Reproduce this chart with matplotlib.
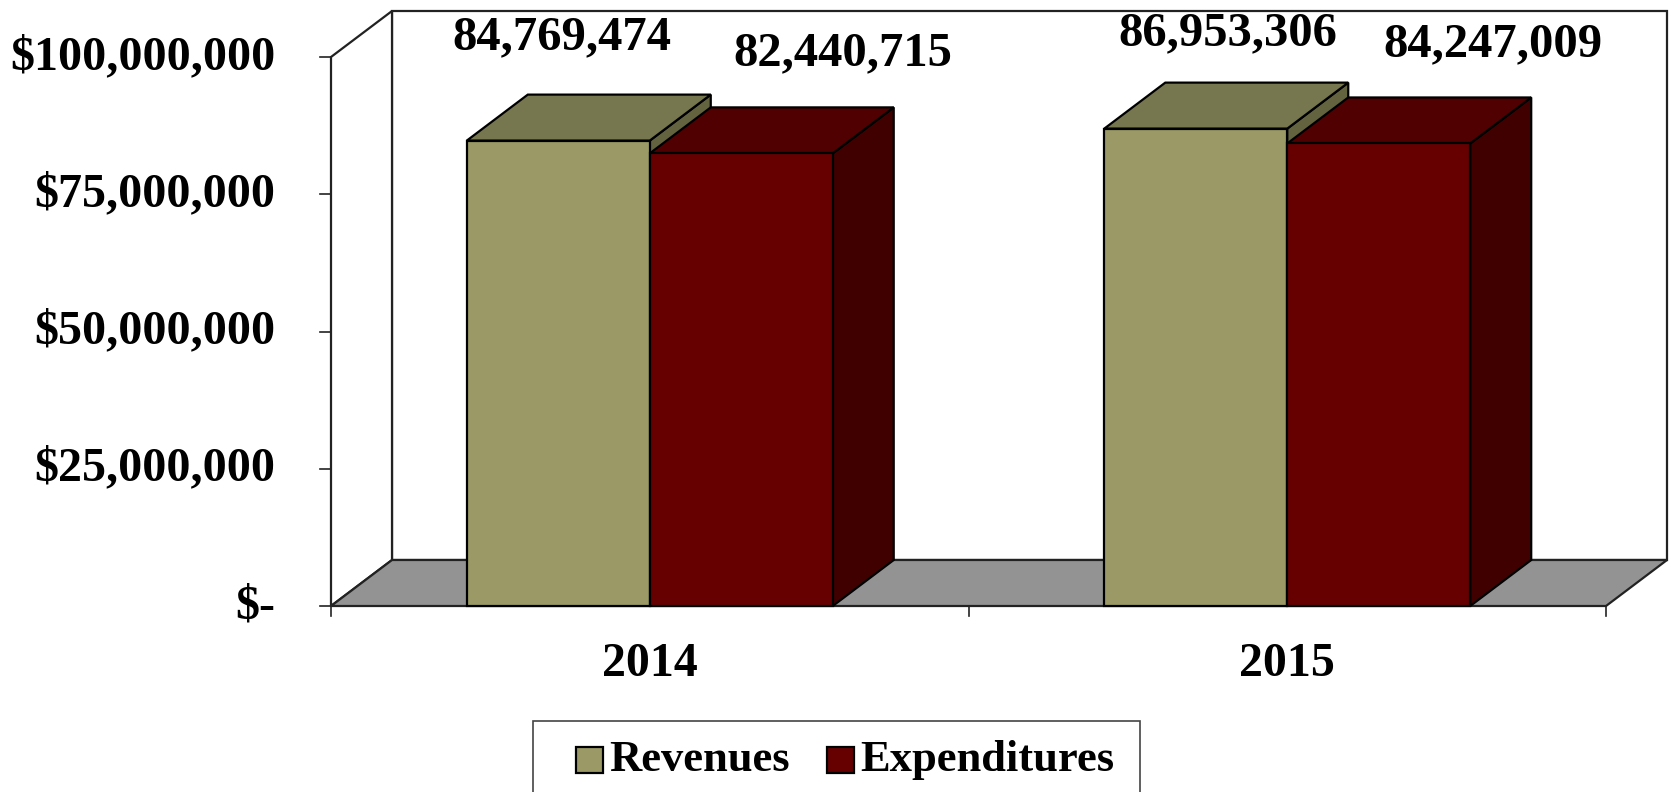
import matplotlib
matplotlib.use("Agg")
import matplotlib.pyplot as plt
from matplotlib.patches import Polygon, Rectangle

# ---- data ----
years = ["2014", "2015"]
revenues = [84769474, 86953306]
expenditures = [82440715, 84247009]
series_names = ["Revenues", "Expenditures"]
yticks = [0, 25000000, 50000000, 75000000, 100000000]
ytick_labels = ["$-", "$25,000,000", "$50,000,000", "$75,000,000", "$100,000,000"]

# ---- style ----
FONT = "Liberation Serif"
rev_cols = dict(front="#9B9A66", top="#76764F", side="#63633F")
exp_cols = dict(front="#660000", top="#500000", side="#400000")
floor_col = "#939393"
W, H = 1673, 792
DX = 0.0957          # depth offset in category units
DY = 8.38e6          # depth offset in value units
BW = 0.287           # bar width
# label offsets (category units, value units) per bar
lab_off = {("rev", 0): (0.005, 18.9e6), ("exp", 0): (0.16, 18.2e6),
           ("rev", 1): (0.05, 17.3e6), ("exp", 1): (0.179, 18.0e6)}

fig = plt.figure(figsize=(W / 100, H / 100), dpi=100)
ax = fig.add_axes([0, 0, 1, 1])
ax.set_xlim(-331 / 637.5, (W - 331) / 637.5)
ax.set_ylim(-(H - 606) / 5.49e-6, 606 / 5.49e-6)
ax.axis("off")

ymax = yticks[-1]
ncat = len(years)
lw = 1.6
ec = "#222222"

# back wall
ax.add_patch(Polygon([(DX, DY), (ncat + DX, DY), (ncat + DX, ymax + DY), (DX, ymax + DY)],
                     closed=True, facecolor="white", edgecolor=ec, lw=lw, zorder=1))
# left wall
ax.add_patch(Polygon([(0, 0), (DX, DY), (DX, ymax + DY), (0, ymax)],
                     closed=True, facecolor="white", edgecolor=ec, lw=lw, zorder=1))
# floor
ax.add_patch(Polygon([(0, 0), (ncat, 0), (ncat + DX, DY), (DX, DY)],
                     closed=True, facecolor=floor_col, edgecolor=ec, lw=lw, zorder=2))

# y ticks and labels
for v, lab in zip(yticks, ytick_labels):
    ax.plot([-0.018, 0], [v, v], color=ec, lw=1.2, zorder=3)
    ax.text(-0.0878, v, lab, ha="right", va="center", fontsize=34.6,
            fontweight="bold", family=FONT, zorder=5)
# x ticks
for i in range(ncat + 1):
    ax.plot([i, i], [0, -1.9e6], color=ec, lw=1.2, zorder=3)
for i, y in enumerate(years):
    ax.text(i + 0.5, -10.6e6, y, ha="center", va="center", fontsize=34.5,
            fontweight="bold", family=FONT, zorder=5)


def bar3d(x0, x1, v, cols, z):
    side = [(x1, 0), (x1 + DX, DY), (x1 + DX, v + DY), (x1, v)]
    top = [(x0, v), (x1, v), (x1 + DX, v + DY), (x0 + DX, v + DY)]
    front = [(x0, 0), (x1, 0), (x1, v), (x0, v)]
    ax.add_patch(Polygon(side, closed=True, facecolor=cols["side"], edgecolor="black", lw=lw, zorder=z))
    ax.add_patch(Polygon(top, closed=True, facecolor=cols["top"], edgecolor="black", lw=lw, zorder=z))
    ax.add_patch(Polygon(front, closed=True, facecolor=cols["front"], edgecolor="black", lw=lw, zorder=z))


z = 4
for i in range(ncat):
    c = i + 0.5
    for key, vals, cols, x0 in (("rev", revenues, rev_cols, c - BW), ("exp", expenditures, exp_cols, c)):
        v = vals[i]
        bar3d(x0, x0 + BW, v, cols, z)
        z += 0.1
        ox, oy = lab_off[(key, i)]
        ax.text(x0 + BW / 2 + ox, v + oy, f"{v:,}", ha="center", va="center",
                fontsize=35, fontweight="bold", family=FONT, zorder=6)

# legend (manual, in figure pixel fractions)
def fx(px):
    return px / W


def fy(py):
    return 1 - py / H


fig.patches.append(Rectangle((fx(533), fy(800)), fx(1140) - fx(533), fy(721) - fy(800),
                             transform=fig.transFigure, facecolor="white", edgecolor="#444444",
                             lw=1.2, zorder=10))
for name, cols, px, tx in ((series_names[0], rev_cols, 576, 609), (series_names[1], exp_cols, 827, 860)):
    fig.patches.append(Rectangle((fx(px), fy(773)), fx(px + 27) - fx(px), fy(747) - fy(773),
                                 transform=fig.transFigure, facecolor=cols["front"],
                                 edgecolor="black", lw=1.6, zorder=11))
    fig.text(fx(tx), fy(760), name, ha="left", va="center", fontsize=32,
             fontweight="bold", family=FONT, zorder=12)

fig.savefig("out.png", dpi=100)
